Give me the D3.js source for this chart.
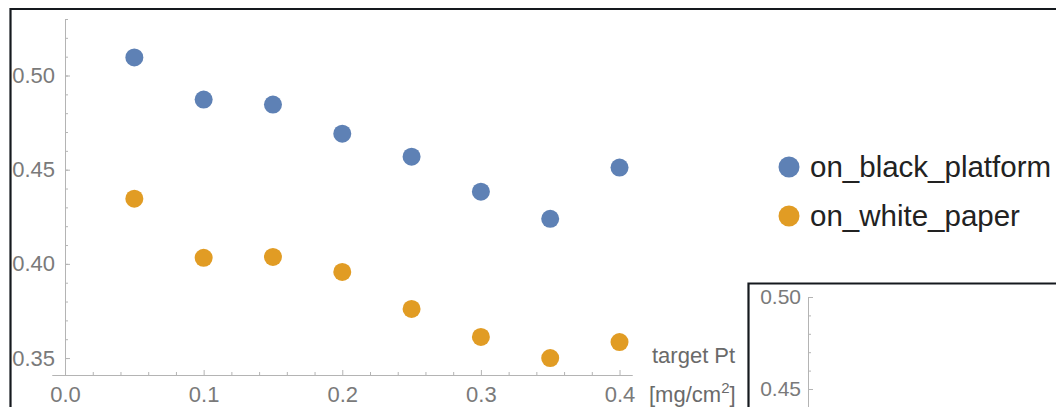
<!DOCTYPE html>
<html>
<head>
<meta charset="utf-8">
<script src="https://cdn.jsdelivr.net/npm/d3@7"></script>
<style>
  body { margin: 0; background: #fff; }
  svg { display: block; font-family: "Liberation Sans", Arial, sans-serif; }
  .tick text { fill: #7a7a7a; }
</style>
</head>
<body>
<div id="viz"><svg width="1056" height="407"></svg></div>
<script>
// data
const targetPt = [0.05, 0.10, 0.15, 0.20, 0.25, 0.30, 0.35, 0.40]
const onBlackPlatform = [0.5096, 0.4872, 0.4846, 0.4691, 0.4569, 0.4383, 0.4239, 0.4511]
const onWhitePaper = [0.4346, 0.4032, 0.4037, 0.3957, 0.3761, 0.3612, 0.3500, 0.3585]
const seriesNames = ["on_black_platform", "on_white_paper"]
const seriesColors = ["#5e81b5", "#e19c24"]
const xTicks = [0, 0.1, 0.2, 0.3, 0.4]
const yTicks = [0.35, 0.40, 0.45, 0.50]
const insetTicks = [0.45, 0.50]

const svg = d3.select("#viz").select("svg")

const x = d3.scaleLinear().domain([-0.0094, 0.409]).range([52, 632])
const y = d3.scaleLinear().domain([0.341, 0.530]).range([375, 19])

// minor ticks first, majors on top
svg.append("g")
    .attr("transform", "translate(0,375)")
    .call(d3.axisBottom(x).tickValues(d3.range(0.02, 0.41, 0.02).filter(v => Math.abs(v * 10 - Math.round(v * 10)) > 1e-6)).tickSize(-3).tickSizeOuter(0).tickFormat(""))
    .call(g => g.selectAll("line,path").attr("stroke", "#b4b4b4"))

svg.append("g")
    .attr("class", "xaxis")
    .attr("transform", "translate(0,375)")
    .call(d3.axisBottom(x).tickValues(xTicks).tickSize(-5).tickSizeOuter(0).tickPadding(11).tickFormat(d3.format(".1f")))
    .call(g => g.selectAll("line,path").attr("stroke", "#b4b4b4"))
    .call(g => g.selectAll("text").attr("font-size", 22).attr("font-family", "Liberation Sans, Arial, sans-serif"))

svg.append("g")
    .attr("transform", "translate(65,0)")
    .call(d3.axisLeft(y).tickValues(d3.range(0.35, 0.531, 0.01)).tickSize(-3).tickSizeOuter(0).tickFormat(""))
    .call(g => g.selectAll("line,path").attr("stroke", "#b4b4b4"))

svg.append("g")
    .attr("transform", "translate(65,0)")
    .call(d3.axisLeft(y).tickValues(yTicks).tickSize(-5).tickSizeOuter(0).tickPadding(10).tickFormat(d3.format(".2f")))
    .call(g => g.selectAll("line,path").attr("stroke", "#b4b4b4"))
    .call(g => g.selectAll("text").attr("font-size", 22).attr("font-family", "Liberation Sans, Arial, sans-serif"))

// axis label
const lab = svg.append("text")
    .attr("font-size", 22)
    .attr("fill", "#6a6a6a")
lab.append("tspan").attr("x", 652).attr("y", 363).text("target Pt")
lab.append("tspan").attr("x", 649).attr("y", 402).text("[mg/cm")
lab.append("tspan").attr("dy", -9).attr("font-size", 15).text("2")
lab.append("tspan").attr("dy", 9).text("]")

// points
const series = [onBlackPlatform, onWhitePaper]
series.forEach((vals, s) => {
    svg.append("g")
        .selectAll("circle")
        .data(vals)
        .enter()
        .append("circle")
        .attr("cx", (d, i) => x(targetPt[i]))
        .attr("cy", d => y(d))
        .attr("r", 9)
        .attr("fill", seriesColors[s])
})

// legend
const legend = svg.append("g")
    .selectAll("g")
    .data(seriesNames)
    .enter()
    .append("g")
    .attr("transform", (d, i) => "translate(789," + (167 + i * 49) + ")")
legend.append("circle")
    .attr("r", 10.5)
    .attr("fill", (d, i) => seriesColors[i])
legend.append("text")
    .attr("x", 21)
    .attr("y", 10)
    .attr("font-size", 29.5)
    .attr("fill", "#222")
    .text(d => d)

// inset (only its top-left corner shows)
const insetY = d3.scaleLinear().domain([0.43, 0.50]).range([425.8, 297])
svg.append("rect")
    .attr("x", 748).attr("y", 283).attr("width", 320).attr("height", 140)
    .attr("fill", "#fff")
svg.append("g")
    .attr("transform", "translate(808,0)")
    .call(d3.axisLeft(insetY).tickValues(d3.range(0.43, 0.501, 0.01)).tickSize(-3).tickSizeOuter(0).tickFormat(""))
    .call(g => g.selectAll("line,path").attr("stroke", "#b4b4b4"))
svg.append("g")
    .attr("transform", "translate(808,0)")
    .call(d3.axisLeft(insetY).tickValues(insetTicks).tickSize(-5).tickSizeOuter(0).tickPadding(7).tickFormat(d3.format(".2f")))
    .call(g => g.selectAll("line,path").attr("stroke", "#b4b4b4"))
    .call(g => g.selectAll("text").attr("font-size", 21).attr("font-family", "Liberation Sans, Arial, sans-serif"))

// frames
svg.append("path")
    .attr("d", "M748.5,407V283.5H1056")
    .attr("fill", "none").attr("stroke", "#15191e").attr("stroke-width", 2.2)
svg.append("path")
    .attr("d", "M10.5,407V9H1056")
    .attr("fill", "none").attr("stroke", "#15191e").attr("stroke-width", 2.2)
</script>
</body>
</html>
